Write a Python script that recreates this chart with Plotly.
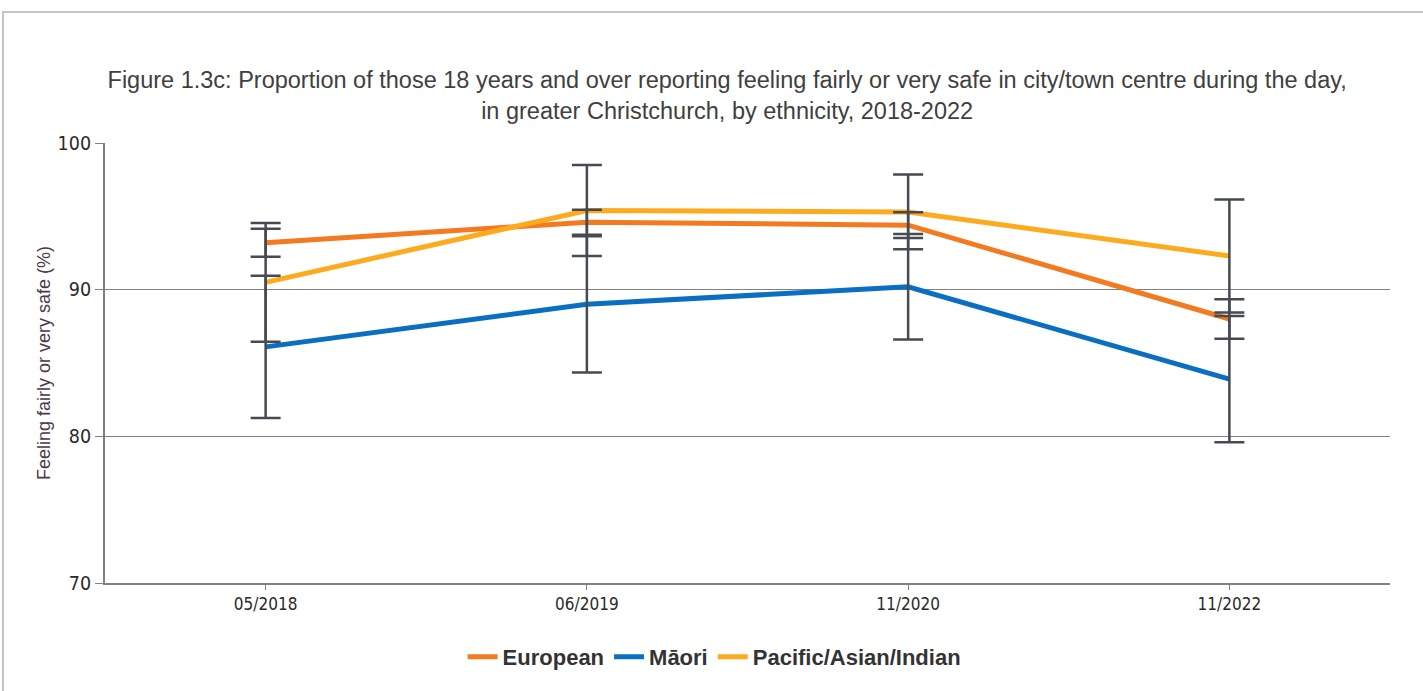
import plotly.graph_objects as go

# survey waves
periods = ['05/2018', '06/2019', '11/2020', '11/2022']

# proportion feeling safe (%) and 95% CI half-widths
european = [93.2, 94.6, 94.4, 88.0]
european_err = [0.95, 0.85, 0.87, 1.35]
maori = [86.1, 89.0, 90.2, 83.9]
maori_err = [4.85, 4.65, 3.6, 4.3]
pacific = [90.5, 95.4, 95.3, 92.3]
pacific_err = [4.05, 3.1, 2.55, 3.85]

series = [
    ('European', european, european_err, '#f47a20'),
    ('Māori', maori, maori_err, '#0a6fc2'),
    ('Pacific/Asian/Indian', pacific, pacific_err, '#fdaa1e'),
]

fig = go.Figure()
for name, vals, errs, color in series:
    fig.add_trace(go.Scatter(x=periods, y=vals, name=name, mode='lines',
                             line=dict(color=color, width=5)))

# error bars drawn last so they sit on top of the lines
for name, vals, errs, color in series:
    fig.add_trace(go.Scatter(x=periods, y=vals, mode='markers', showlegend=False,
                             marker=dict(size=0.1, opacity=0),
                             error_y=dict(type='data', array=errs, visible=True,
                                          color='#464a52', thickness=2.5, width=15),
                             hoverinfo='skip'))

tick_font = dict(family='DejaVu Sans Condensed, Roboto Condensed, Roboto', size=17, color='#2a2a2a')

fig.update_layout(
    width=1423, height=691,
    margin=dict(l=105, r=33, t=143, b=108),
    paper_bgcolor='white', plot_bgcolor='white',
    title=dict(text='Figure 1.3c: Proportion of those 18 years and over reporting feeling fairly or very safe in city/town centre during the day,<br>in greater Christchurch, by ethnicity, 2018-2022',
               x=0.511, xanchor='center', y=0.872, yanchor='middle',
               font=dict(family='Liberation Sans, Arial', size=23.5, color='#404040')),
    showlegend=True,
    legend=dict(orientation='h', x=0.474, xanchor='center', y=-0.168, yanchor='middle',
                font=dict(family='Liberation Sans, Arial', size=22, color='#333333', weight='bold'),
                itemwidth=30, tracegroupgap=0),
    xaxis=dict(range=[-0.5, 3.5], showline=True, linecolor='#808080', linewidth=2, showgrid=False,
               ticks='outside', ticklen=5, tickcolor='#808080', tickfont=tick_font),
    yaxis=dict(range=[70, 100], tickvals=[70, 80, 90, 100], showline=True, linecolor='#808080',
               linewidth=2, showgrid=True, gridcolor='#808080', gridwidth=1,
               ticks='outside', ticklen=8, tickcolor='#808080', tickfont=dict(tick_font, size=19.5),
               zeroline=False,
               title=dict(text='Feeling fairly or very safe (%)', standoff=2,
                          font=dict(family='Liberation Sans, Arial', size=18, color='#4a3a4a'))),
)

# outer frame of the figure box
fig.add_shape(type='path', xref='paper', yref='paper',
              path='M -0.0794 -0.3 L -0.0794 1.2977 L 1.03 1.2977',
              line=dict(color='#c4c4c4', width=2))

fig.write_html('out.html', config={'displayModeBar': False},
               post_script="document.body.style.margin='0';")
